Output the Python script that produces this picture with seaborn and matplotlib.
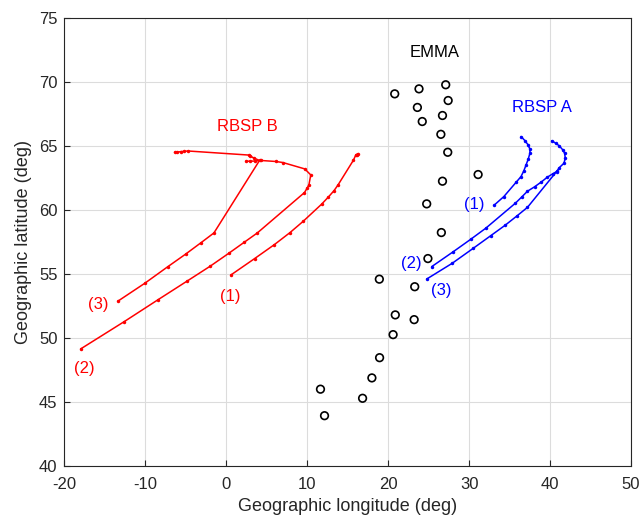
import numpy as np
import pandas as pd
import matplotlib
matplotlib.use("Agg")
import matplotlib.pyplot as plt
import seaborn as sns

sns.set_theme(style="white")
plt.rcParams['font.family'] = ['Liberation Sans', 'DejaVu Sans']

# EMMA stations
emma_lon = [20.8, 23.8, 27.1, 27.4, 23.6, 26.7, 24.2, 26.5, 27.35, 31.1, 26.7, 24.75,
            26.56, 24.9, 18.9, 23.27, 20.87, 23.2, 20.6, 18.93, 17.98, 11.63, 16.83, 12.13]
emma_lat = [69.06, 69.45, 69.77, 68.54, 68.0, 67.37, 66.9, 65.9, 64.5, 62.76, 62.24, 60.47,
            58.23, 56.2, 54.59, 54.0, 51.8, 51.43, 50.26, 48.46, 46.88, 46.0, 45.29, 43.93]

# RBSP B tracks
b1_lon = [0.57, 3.5, 5.94, 7.87, 9.48, 11.76, 12.6, 13.3, 13.8, 15.7, 16.0, 16.3, 16.1]
b1_lat = [54.92, 56.2, 57.29, 58.23, 59.1, 60.44, 61.0, 61.5, 61.95, 63.88, 64.3, 64.4, 64.25]
b2_lon = [-18.0, -12.6, -8.4, -4.87, -2.0, 0.28, 2.23, 3.83, 9.65, 9.98, 10.2, 10.43, 9.69,
          6.97, 6.1, 4.24, 3.6, 2.97, 2.43]
b2_lat = [49.14, 51.28, 53.0, 54.43, 55.6, 56.6, 57.48, 58.2, 61.35, 61.7, 61.95, 62.73, 63.2,
          63.7, 63.78, 63.86, 63.82, 63.8, 63.8]
b3_lon = [-13.4, -10.07, -7.26, -5.04, -3.1, -1.53, 4.1, 3.4, 2.97, 2.8, -4.75, -5.2, -5.65,
          -6.06, -6.4]
b3_lat = [52.87, 54.27, 55.55, 56.54, 57.45, 58.2, 63.86, 64.05, 64.2, 64.28, 64.6, 64.57,
          64.55, 64.5, 64.5]

# RBSP A tracks
a1_lon = [33.12, 34.28, 35.84, 36.4, 36.76, 37.04, 37.3, 37.5, 37.5, 37.25, 36.88, 36.4]
a1_lat = [60.39, 61.04, 62.19, 62.6, 63.07, 63.54, 63.98, 64.43, 64.74, 65.1, 65.41, 65.73]
a2_lon = [25.37, 28.0, 30.2, 32.05, 35.7, 36.46, 37.2, 38.07, 38.93, 39.64, 40.3, 40.8,
          41.13, 41.7, 41.87, 41.78, 41.54, 41.13, 40.7, 40.2]
a2_lat = [55.57, 56.72, 57.71, 58.57, 60.52, 60.99, 61.46, 61.8, 62.19, 62.55, 62.81, 62.99,
          63.3, 63.64, 64.04, 64.43, 64.7, 65.0, 65.2, 65.4]
a3_lon = [24.75, 27.9, 30.5, 32.67, 34.44, 35.9, 37.2, 40.8]
a3_lat = [54.6, 55.83, 57.0, 57.99, 58.8, 59.53, 60.2, 63.0]

x_ticks = [-20, -10, 0, 10, 20, 30, 40, 50]
y_ticks = [40, 45, 50, 55, 60, 65, 70, 75]

RED = '#FF0000'
BLUE = '#0000FF'

fig = plt.figure(figsize=(6.44, 5.17), dpi=100)
ax = fig.add_axes([0.1, 0.0986, 0.88, 0.867])

def track(lon, lat, color):
    df = pd.DataFrame({'lon': lon, 'lat': lat})
    sns.lineplot(data=df, x='lon', y='lat', sort=False, estimator=None, color=color,
                 linewidth=1.1, marker='o', markersize=2.5, markeredgewidth=0, ax=ax)

for lo, la in [(b1_lon, b1_lat), (b2_lon, b2_lat), (b3_lon, b3_lat)]:
    track(lo, la, RED)
for lo, la in [(a1_lon, a1_lat), (a2_lon, a2_lat), (a3_lon, a3_lat)]:
    track(lo, la, BLUE)

emma = pd.DataFrame({'lon': emma_lon, 'lat': emma_lat})
sns.scatterplot(data=emma, x='lon', y='lat', marker='o', s=30, facecolor='none',
                edgecolor='black', linewidth=1.2, ax=ax)

fs = 12
ax.text(2.6, 66.5, 'RBSP B', color=RED, fontsize=fs, ha='center', va='center')
ax.text(39.0, 68.0, 'RBSP A', color=BLUE, fontsize=fs, ha='center', va='center')
ax.text(25.7, 72.3, 'EMMA', color='black', fontsize=fs, ha='center', va='center')
ax.text(0.5, 53.2, '(1)', color=RED, fontsize=fs, ha='center', va='center')
ax.text(-17.5, 47.6, '(2)', color=RED, fontsize=fs, ha='center', va='center')
ax.text(-15.8, 52.6, '(3)', color=RED, fontsize=fs, ha='center', va='center')
ax.text(30.6, 60.4, '(1)', color=BLUE, fontsize=fs, ha='center', va='center')
ax.text(22.8, 55.8, '(2)', color=BLUE, fontsize=fs, ha='center', va='center')
ax.text(26.6, 53.7, '(3)', color=BLUE, fontsize=fs, ha='center', va='center')

ax.set_xlim(-20, 50)
ax.set_ylim(40, 75)
ax.set_xticks(x_ticks)
ax.set_yticks(y_ticks)
ax.set_xticklabels([str(t) for t in x_ticks])
ax.set_yticklabels([str(t) for t in y_ticks])
ax.grid(True, color='#DCDCDC', linewidth=0.8)
ax.set_axisbelow(True)
for s in ax.spines.values():
    s.set_visible(True)
    s.set_color('#262626')
    s.set_linewidth(0.8)
ax.tick_params(direction='in', length=4, width=0.8, labelsize=12, colors='#262626',
               labelcolor='#262626', bottom=True, left=True, top=False, right=False)
ax.tick_params(axis='x', pad=8)
ax.tick_params(axis='y', pad=5)
ax.set_xlabel('Geographic longitude (deg)', fontsize=13, color='#262626', labelpad=4)
ax.set_ylabel('Geographic latitude (deg)', fontsize=13, color='#262626', labelpad=5)

fig.savefig('out.png', dpi=100)
